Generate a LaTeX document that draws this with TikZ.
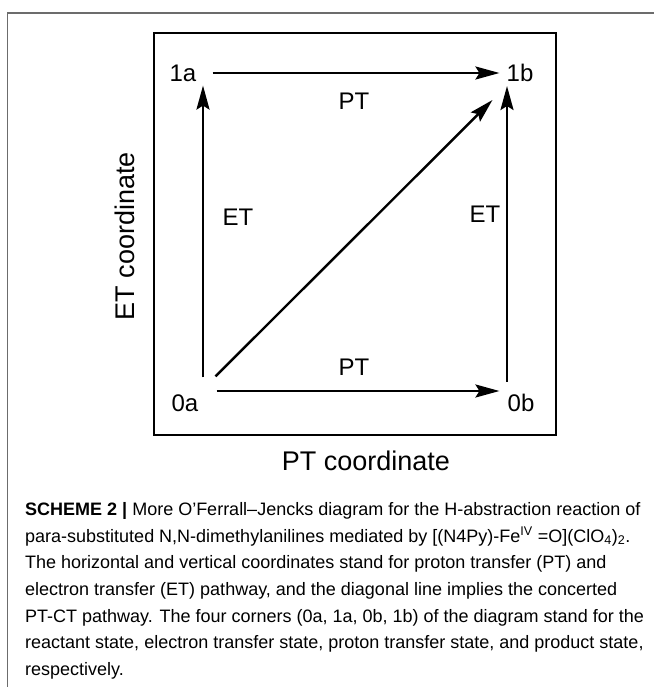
\documentclass[tikz,border=0pt]{standalone}
\usepackage{fontspec}
\setmainfont{Liberation Sans}
\usetikzlibrary{arrows.meta}
\begin{document}
\begin{tikzpicture}[x=1pt,y=-1pt,
  lbl/.style={inner sep=0pt,font=\fontsize{24}{28}\selectfont},
  axlbl/.style={inner sep=0pt,font=\fontsize{27}{31}\selectfont},
  capline/.style={anchor=base west,inner sep=0pt,font=\fontsize{18}{21}\selectfont},
  arr/.style={line width=2.4pt,-{Stealth[length=24pt,width=13pt,inset=4pt]}}]
\useasboundingbox (0,0) rectangle (653,687);
% outer frame
\draw[gray!85!black,line width=1.3pt] (7.5,700) -- (7.5,13) -- (660,13);
% inner box
\draw[line width=2.6pt] (154,33) rectangle (556,435);
% state nodes
\node[lbl] (1a) at (183,73) {1a};
\node[lbl] (1b) at (520,73) {1b};
\node[lbl] (0a) at (185,403) {0a};
\node[lbl] (0b) at (521,403) {0b};
% arrows
\draw[arr,shorten <=16pt,shorten >=7pt] (1a.east) -- (1b.west);
\draw[arr,shorten <=18pt,shorten >=8pt] ([shift={(0,-12)}]0a.east) -- ([shift={(0,-12)}]0b.west);
\draw[arr,shorten <=17pt,shorten >=4pt] ([shift={(18,0)}]0a.north) -- ([shift={(20,0)}]1a.south);
\draw[arr,shorten <=12pt,shorten >=4pt] ([shift={(-14,0)}]0b.north) -- ([shift={(-13,0)}]1b.south);
\draw[arr] ([shift={(17,-18)}]0a.north east) -- ([shift={(-14,18)}]1b.south west);
% arrow labels
\node[lbl] (ptt) at (354,101) {PT};
\node[lbl] (ptb) at (354,367) {PT};
\node[lbl] (etl) at (238,217) {ET};
\node[lbl] (etr) at (485,214) {ET};
% axis labels
\node[axlbl,rotate=90] (etc) at (125,236) {ET coordinate};
\node[axlbl] (ptc) at (366,461) {PT coordinate};
% caption
\node[capline] (c1) at (25,515) {\textbf{SCHEME 2 |} More O’Ferrall–Jencks diagram for the H-abstraction reaction of};
\node[capline] (c2) at (25,542) {para-substituted N,N-dimethylanilines mediated by [(N4Py)-Fe\textsuperscript{IV} =O](ClO\textsubscript{4})\textsubscript{2}.};
\node[capline] (c3) at (25,568.5) {The horizontal and vertical coordinates stand for proton transfer (PT) and};
\node[capline] (c4) at (25,595) {electron transfer (ET) pathway, and the diagonal line implies the concerted};
\node[capline] (c5) at (25,622) {PT-CT pathway. The four corners (0a, 1a, 0b, 1b) of the diagram stand for the};
\node[capline] (c6) at (25,648.5) {reactant state, electron transfer state, proton transfer state, and product state,};
\node[capline] (c7) at (25,675) {respectively.};
\end{tikzpicture}
\end{document}
